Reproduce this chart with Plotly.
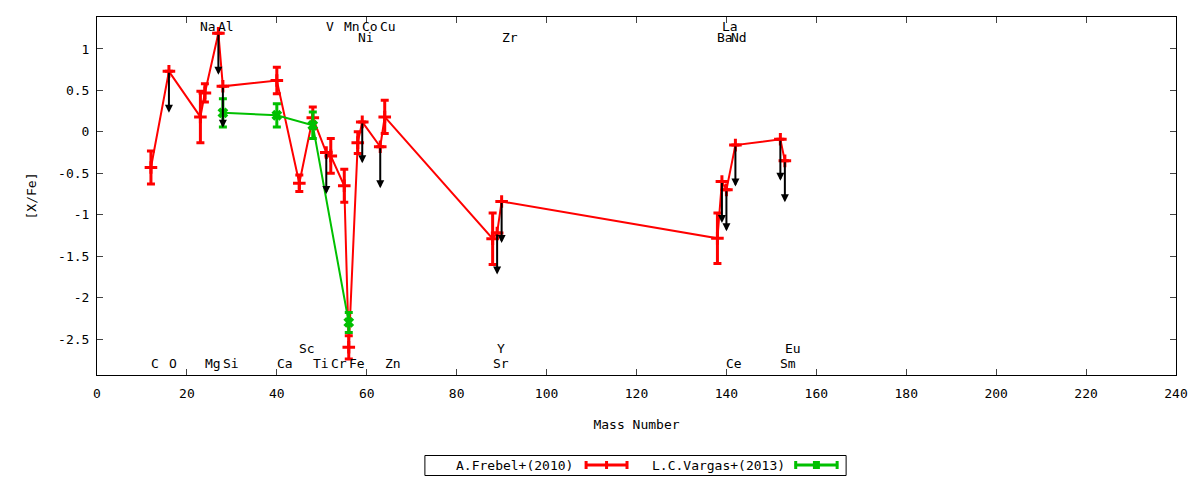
import plotly.graph_objects as go

# ---------------- data ----------------
# A.Frebel+(2010)
frebel_mass = [12, 16, 23, 24, 27, 28, 40, 45, 48, 51, 52, 55, 56, 58, 59, 63, 64,
               88, 89, 90, 138, 139, 140, 142, 152, 153]
frebel_xfe = [-0.43, 0.73, 0.18, 0.47, 1.19, 0.55, 0.62, -0.62, 0.17, -0.25, -0.29,
              -0.65, -2.60, -0.13, 0.12, -0.18, 0.18, -1.29, -1.22, -0.84, -1.285,
              -0.60, -0.70, -0.16, -0.09, -0.35]
frebel_err = [0.20, 0.0, 0.31, 0.11, 0.0, 0.0, 0.16, 0.10, 0.13, 0.0, 0.21,
              0.20, 0.14, 0.13, 0.0, 0.0, 0.20, 0.31, 0.0, 0.0, 0.305,
              0.0, 0.0, 0.0, 0.0, 0.0]
frebel_upper = [False, True, False, False, True, True, False, False, False, True, False,
                False, False, False, True, True, False, False, True, True, False,
                True, True, True, True, True]

# L.C.Vargas+(2013)
vargas_mass = [28, 40, 48, 56]
vargas_xfe = [0.23, 0.20, 0.08, -2.30]
vargas_err = [0.17, 0.14, 0.16, 0.12]

# element labels
label_text = ["C", "O", "Na", "Mg", "Al", "Si", "Ca", "Sc", "Ti", "V", "Cr", "Mn", "Fe",
              "Ni", "Co", "Cu", "Zn", "Sr", "Y", "Zr", "Ba", "La", "Ce", "Nd", "Sm", "Eu"]
label_mass = [12, 16, 23, 24, 27, 28, 40, 45, 48, 51, 52, 55, 56,
              58, 59, 63, 64, 88, 89, 90, 138, 139, 140, 141, 152, 153]
label_row = ["b", "b", "t", "b", "t", "b", "b", "b2", "b", "t", "b", "t", "b",
             "t2", "t", "t", "b", "b", "b2", "t2", "t2", "t", "b", "t2", "b", "b2"]

x_ticks = [0, 20, 40, 60, 80, 100, 120, 140, 160, 180, 200, 220, 240]
y_ticks = [-2.5, -2, -1.5, -1, -0.5, 0, 0.5, 1]
y_tick_text = ["-2.5", "-2", "-1.5", "-1", "-0.5", "0", "0.5", "1"]

series_names = ["A.Frebel+(2010)", "L.C.Vargas+(2013)"]

# ---------------- style ----------------
RED = "#ff0000"
GREEN = "#00c000"
FONT = "DejaVu Sans Mono"
FS = 13
UL_LEN = 0.5
ROW_Y = {"t": 1.266, "t2": 1.139, "b": -2.796, "b2": -2.62}

FIG_W, FIG_H = 1200, 480
L, R, T, B = 97, 1178, 17, 375          # plot area in page pixels

fig = go.Figure()

fig.add_trace(go.Scatter(
    x=frebel_mass, y=frebel_xfe, mode="lines+markers", name=series_names[0],
    line=dict(color=RED, width=2),
    marker=dict(symbol="cross-thin", size=9, color=RED, line=dict(color=RED, width=3)),
    error_y=dict(type="data", array=frebel_err, visible=True, color=RED,
                 thickness=3, width=4),
    showlegend=False,
))

fig.add_trace(go.Scatter(
    x=vargas_mass, y=vargas_xfe, mode="lines+markers", name=series_names[1],
    line=dict(color=GREEN, width=2),
    marker=dict(symbol="x-thin", size=8, color=GREEN, line=dict(color=GREEN, width=4)),
    error_y=dict(type="data", array=vargas_err, visible=True, color=GREEN,
                 thickness=3, width=4),
    showlegend=False,
))

annotations = []
# upper-limit arrows
for m, v, u in zip(frebel_mass, frebel_xfe, frebel_upper):
    if u:
        annotations.append(dict(
            x=m, y=v - UL_LEN, ax=m, ay=v, xref="x", yref="y", axref="x", ayref="y",
            text="", showarrow=True, arrowhead=2, arrowsize=0.8, arrowwidth=2,
            arrowcolor="black", standoff=0, startstandoff=0))

# element labels
for t, m, r in zip(label_text, label_mass, label_row):
    annotations.append(dict(
        x=m, y=ROW_Y[r], xref="x", yref="y", text=t, showarrow=False,
        xanchor="left", yanchor="middle", xshift=-2,
        font=dict(family=FONT, size=FS, color="black")))

# ---------------- custom legend (gnuplot style: text then sample) ----------------
W, H = R - L, B - T


def px(xp):
    return (xp - L) / W


def py(yp):
    return (B - yp) / H


shapes = []
leg_y = py(465)
shapes.append(dict(type="rect", xref="paper", yref="paper",
                   x0=px(425.5), x1=px(847.5), y0=py(455.5), y1=py(475.5),
                   line=dict(color="black", width=1), fillcolor="rgba(0,0,0,0)"))

legend_items = [
    (series_names[0], RED, 576, 586, 629, "plus"),
    (series_names[1], GREEN, 788.5, 796, 839.5, "x"),
]
for name, col, text_right, s0, s1, mk in legend_items:
    annotations.append(dict(x=px(text_right), y=leg_y, xref="paper", yref="paper",
                            text=name, showarrow=False, xanchor="right", yanchor="middle",
                            font=dict(family=FONT, size=FS, color="black")))
    shapes.append(dict(type="line", xref="paper", yref="paper",
                       x0=px(s0), x1=px(s1), y0=leg_y, y1=leg_y,
                       line=dict(color=col, width=3)))
    for xe in (s0 + 1, s1 - 1):
        shapes.append(dict(type="line", xref="paper", yref="paper",
                           x0=px(xe), x1=px(xe), y0=py(461), y1=py(469),
                           line=dict(color=col, width=3)))
    mid = (s0 + s1) / 2
    if mk == "plus":
        shapes.append(dict(type="line", xref="paper", yref="paper",
                           x0=px(mid), x1=px(mid), y0=py(461), y1=py(469),
                           line=dict(color=col, width=3)))
    else:
        shapes.append(dict(type="rect", xref="paper", yref="paper",
                           x0=px(mid - 3.5), x1=px(mid + 3.5), y0=py(461), y1=py(469),
                           line=dict(color=col, width=0), fillcolor=col))

fig.update_layout(
    width=FIG_W, height=FIG_H,
    margin=dict(l=L, r=FIG_W - R, t=T, b=FIG_H - B),
    paper_bgcolor="white", plot_bgcolor="white",
    font=dict(family=FONT, size=FS, color="black"),
    annotations=annotations, shapes=shapes,
    showlegend=False,
    xaxis=dict(range=[0, 240], tickvals=x_ticks, ticks="inside", ticklen=6,
               showline=True, linecolor="black", linewidth=1, mirror="ticks",
               showgrid=False, zeroline=False, ticklabelstandoff=6,
               title=dict(text="Mass Number", standoff=20,
                          font=dict(family=FONT, size=FS))),
    yaxis=dict(range=[-2.934, 1.386], tickvals=y_ticks, ticktext=y_tick_text,
               ticks="inside", ticklen=6,
               showline=True, linecolor="black", linewidth=1, mirror="ticks",
               showgrid=False, zeroline=False, ticklabelstandoff=4,
               title=dict(text="[X/Fe]", standoff=18,
                          font=dict(family=FONT, size=FS))),
)

# remove the page's default body margin so the figure sits at the window origin
fig.write_html("out.html",
               config={"displayModeBar": False},
               post_script="document.body.style.margin='0';"
                           "document.body.style.overflow='hidden';")
